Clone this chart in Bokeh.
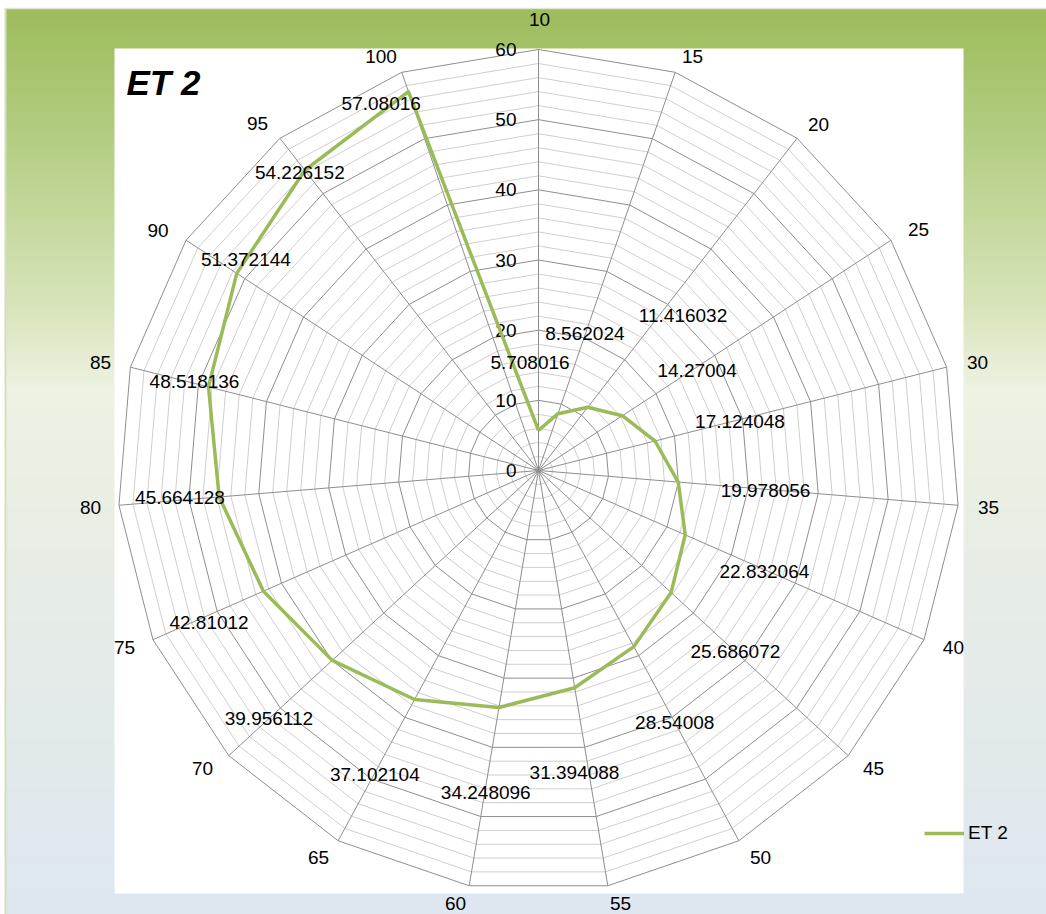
import math
from bokeh.plotting import figure
from bokeh.models import Range1d, Legend, LegendItem, ColumnDataSource
from bokeh.core.properties import value
from bokeh.embed import file_html
from bokeh.resources import INLINE

# ---- data -------------------------------------------------------------
categories = ["10", "15", "20", "25", "30", "35", "40", "45", "50", "55",
              "60", "65", "70", "75", "80", "85", "90", "95", "100"]
et2 = [5.708016, 8.562024, 11.416032, 14.27004, 17.124048, 19.978056,
       22.832064, 25.686072, 28.54008, 31.394088, 34.248096, 37.102104,
       39.956112, 42.81012, 45.664128, 48.518136, 51.372144, 54.226152,
       57.08016]
radial_ticks = [0, 10, 20, 30, 40, 50, 60]
radial_max = 60
minor_step = 2

# ---- layout (screen pixels) -------------------------------------------
W, H = 1046, 914
CX, CY = 538, 470          # pole position on the canvas
R_PX = 421                 # pixel radius of the outer ring
K = R_PX / radial_max      # pixels per value unit

# data-label anchor: radius (value units) and angle (deg, clockwise from top)
label_r = [15.43, 20.62, 30.20, 26.71, 29.56, 32.48, 35.27, 38.12, 40.82,
           43.34, 46.50, 49.20, 52.19, 51.72, 51.24, 50.64, 51.41, 54.40,
           56.89]
label_ang = [355.5, 18.7, 43.0, 57.8, 76.3, 95.0, 114.1, 132.6, 151.6,
             173.2, 189.3, 208.3, 227.4, 245.2, 265.7, 284.5, 305.8, 321.3,
             336.8]
# category-label offsets from the outer vertex, in pixels (x right, y up)
cat_dx = [1, 17.3, 21.4, 27.5, 30.9, 30.4, 29.4, 25.3, 21.6, 12.7,
          -13.7, -19.6, -26.3, -28.4, -28.4, -29.9, -28.0, -22.4, -20.8]
cat_dy = [30, 15.8, 13.8, 10.8, 4.6, -2.2, -7.9, -12.9, -16.7, -17.7,
          -17.7, -16.7, -12.9, -7.9, -2.2, 4.6, 9.8, 14.8, 15.8]

FONT = value("Liberation Sans")
TXT = "19px"
GREEN = "#9BBB59"


def sx(px):
    return (px - CX) / K


def sy(py):
    return (CY - py) / K


def polar(r, deg):
    a = math.radians(deg)
    return r * math.sin(a), r * math.cos(a)


n = len(categories)
angles = [i * 360.0 / n for i in range(n)]

p = figure(width=W, height=H, output_backend="svg", toolbar_location=None,
           x_range=Range1d(sx(0), sx(W)), y_range=Range1d(sy(H), sy(0)),
           min_border=0, outline_line_color=None,
           background_fill_color="white", border_fill_color="white")
p.axis.visible = False
p.grid.visible = False

# ---- chart-area gradient (green -> pale -> blue-grey) ------------------
stops = [(8, (157, 188, 92)), (130, (178, 204, 128)), (300, (214, 227, 184)),
         (390, (238, 242, 226)), (560, (231, 237, 229)), (914, (222, 230, 240))]


def grad(py):
    for (y0, c0), (y1, c1) in zip(stops, stops[1:]):
        if y0 <= py <= y1:
            t = (py - y0) / (y1 - y0)
            return "#%02x%02x%02x" % tuple(int(round(a + (b - a) * t)) for a, b in zip(c0, c1))
    return "#%02x%02x%02x" % stops[-1][1]


tops, bots, cols = [], [], []
for py in range(8, H, 2):
    tops.append(sy(py))
    bots.append(sy(py + 3))
    cols.append(grad(py + 1))
p.quad(left=sx(5), right=sx(W), top=tops, bottom=bots, fill_color=cols,
       line_color=None)
p.line([sx(5), sx(5)], [sy(8), sy(H)], line_color="#d3dfbb", line_width=2)
p.line([sx(5), sx(W)], [sy(8), sy(8)], line_color="#dfe5d6", line_width=1.5)

# white plot area
p.quad(left=sx(114), right=sx(963), top=sy(48), bottom=sy(893),
       fill_color="white", line_color=None)

# ---- polar grid ---------------------------------------------------------
ring_xs, ring_ys, ring_cols = [], [], []
for v in range(minor_step, radial_max + 1, minor_step):
    pts = [polar(v, a) for a in angles + [angles[0]]]
    ring_xs.append([q[0] for q in pts])
    ring_ys.append([q[1] for q in pts])
    ring_cols.append("#8e8e8e" if v % 10 == 0 else "#cfcfcf")
# draw minor first, major on top
order = sorted(range(len(ring_cols)), key=lambda i: ring_cols[i] == "#8e8e8e")
p.multi_line([ring_xs[i] for i in order], [ring_ys[i] for i in order],
             line_color=[ring_cols[i] for i in order], line_width=1)

spoke_end = [polar(radial_max, a) for a in angles]
p.segment(x0=0, y0=0, x1=[q[0] for q in spoke_end], y1=[q[1] for q in spoke_end],
          line_color="#8e8e8e", line_width=1)

# radial tick labels along the first spoke
p.text(x=[sx(CX - 22)] * len(radial_ticks), y=radial_ticks,
       text=[str(t) for t in radial_ticks], text_align="right",
       text_baseline="middle", text_font=FONT, text_font_size=TXT,
       text_color="black")

# category labels outside the outer ring
cx_, cy_ = [], []
for i, a in enumerate(angles):
    vx, vy = polar(radial_max, a)
    cx_.append(vx + cat_dx[i] / K)
    cy_.append(vy + cat_dy[i] / K)
p.text(x=cx_, y=cy_, text=categories, text_align="center",
       text_baseline="middle", text_font=FONT, text_font_size=TXT,
       text_color="black")

# ---- series ------------------------------------------------------------
pts = [polar(v, a) for v, a in zip(et2, angles)]
xs = [q[0] for q in pts] + [pts[0][0]]
ys = [q[1] for q in pts] + [pts[0][1]]
series = p.line(xs, ys, line_color=GREEN, line_width=3.5, line_join="round")

# data labels
lab = [polar(r, a) for r, a in zip(label_r, label_ang)]
p.text(x=[q[0] for q in lab], y=[q[1] for q in lab], text=[str(v) for v in et2],
       text_align="center", text_baseline="middle", text_font=FONT,
       text_font_size=TXT, text_color="black")

# title
p.text(x=[sx(126)], y=[sy(82)], text=["ET 2"], text_align="left",
       text_baseline="middle", text_font=FONT, text_font_size="35px",
       text_font_style="bold italic", text_color="black")

# legend
legend = Legend(items=[LegendItem(label="ET 2", renderers=[series])],
                location=(924, 70), orientation="vertical",
                background_fill_alpha=0, border_line_alpha=0,
                padding=0, margin=0, spacing=0, glyph_width=40,
                glyph_height=20, label_height=20, label_standoff=4,
                label_text_font="Liberation Sans", label_text_font_size=TXT,
                label_text_color="black")
p.add_layout(legend)

open("out.html", "w").write(file_html(p, INLINE))
